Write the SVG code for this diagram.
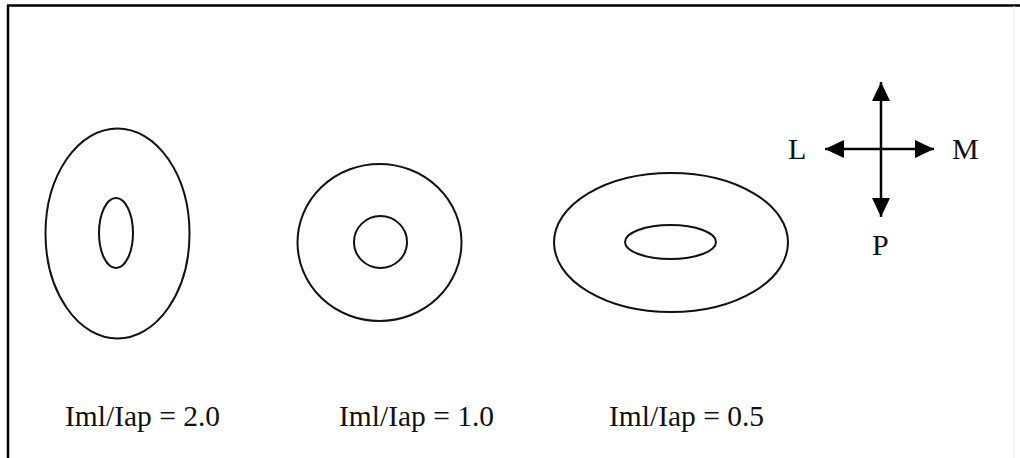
<svg xmlns="http://www.w3.org/2000/svg" width="1020" height="458" viewBox="0 0 1020 458">
<style>
.sh{fill:none;stroke:#111;stroke-width:2}
.ax{stroke:#000;stroke-width:2.5;fill:none}
text{font-family:"Liberation Serif","Times New Roman",serif;font-size:30px;fill:#111}
</style>
<defs>
<marker id="ah" markerUnits="userSpaceOnUse" markerWidth="19" markerHeight="18" viewBox="0 0 19 18" refX="19" refY="9" orient="auto">
<path d="M0,0 L19,9 L0,18 z" fill="#000"/>
</marker>
</defs>
<rect width="1020" height="458" fill="#fff"/>
<g id="frame">
<line x1="7" y1="5.5" x2="1020" y2="5.5" stroke="#000" stroke-width="2.5"/>
<line x1="8" y1="5" x2="8" y2="458" stroke="#000" stroke-width="2.5"/>
<line x1="1014" y1="6" x2="1014" y2="458" stroke="#e4e4e4" stroke-width="1"/>
</g>
<g id="shape-2-0">
<ellipse class="sh" cx="117.5" cy="233.5" rx="72" ry="105"/>
<ellipse class="sh" cx="116" cy="233" rx="17" ry="35"/>
<text x="65" y="426" textLength="155" lengthAdjust="spacingAndGlyphs">Iml/Iap = 2.0</text>
</g>
<g id="shape-1-0">
<ellipse class="sh" cx="379.5" cy="242.5" rx="82" ry="78.5"/>
<ellipse class="sh" cx="380.5" cy="242" rx="26.5" ry="26"/>
<text x="339" y="426" textLength="155" lengthAdjust="spacingAndGlyphs">Iml/Iap = 1.0</text>
</g>
<g id="shape-0-5">
<ellipse class="sh" cx="671" cy="242.5" rx="117" ry="69.5"/>
<ellipse class="sh" cx="670.5" cy="242" rx="45.5" ry="17"/>
<text x="609" y="426" textLength="155" lengthAdjust="spacingAndGlyphs">Iml/Iap = 0.5</text>
</g>
<g id="connectors">
<line class="ax" x1="881" y1="149" x2="881" y2="82" marker-end="url(#ah)"/>
<line class="ax" x1="881" y1="149" x2="881" y2="217" marker-end="url(#ah)"/>
<line class="ax" x1="881" y1="149" x2="825" y2="149" marker-end="url(#ah)"/>
<line class="ax" x1="881" y1="149" x2="934" y2="149" marker-end="url(#ah)"/>
</g>
<g id="compass-labels">
<text x="788" y="159">L</text>
<text x="952" y="159">M</text>
<text x="872" y="255">P</text>
</g>
</svg>
